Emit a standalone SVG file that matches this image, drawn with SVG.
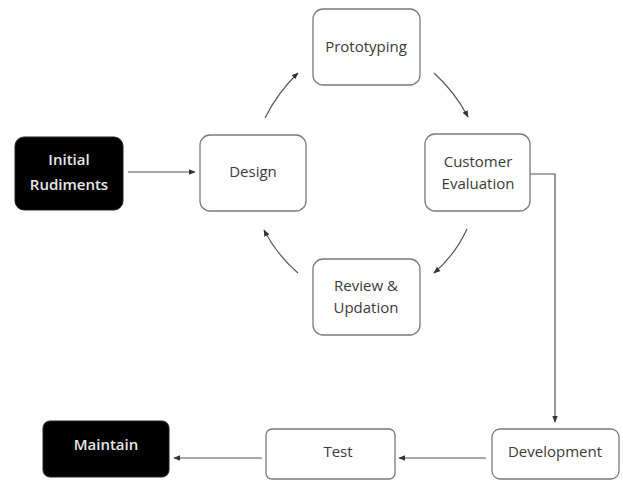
<svg xmlns="http://www.w3.org/2000/svg" width="623" height="489" viewBox="0 0 623 489">
<style>
.box{fill:#fff;stroke:#7a7a7a;stroke-width:1.3}
.dark{fill:#000;stroke:#222;stroke-width:1}
.t{font-family:"Open Sans","Liberation Sans",sans-serif;font-size:15px;fill:#3a3a3a;text-anchor:middle}
.w{fill:#e8e8e8;font-weight:600}
.c{fill:none;stroke:#555;stroke-width:1.2}
</style>
<defs>
<marker id="ah" viewBox="0 0 10 10" refX="9" refY="5" markerWidth="7" markerHeight="7" orient="auto" markerUnits="userSpaceOnUse">
<path d="M0,1 L10,5 L0,9 z" fill="#333"/>
</marker>
</defs>
<rect width="623" height="489" fill="#fff"/>
<g id="connectors">
<path class="c" d="M128,172 L195,172" marker-end="url(#ah)"/>
<path class="c" d="M265,118 Q278,92 298,73" marker-end="url(#ah)"/>
<path class="c" d="M434,73 Q455,92 468,117" marker-end="url(#ah)"/>
<path class="c" d="M467,229 Q455,255 434,273" marker-end="url(#ah)"/>
<path class="c" d="M298,273 Q277,255 264,230" marker-end="url(#ah)"/>
<path class="c" d="M519,174 L555,174 L555,422" marker-end="url(#ah)"/>
<path class="c" d="M486,458 L399,458" marker-end="url(#ah)"/>
<path class="c" d="M262,458 L174,458" marker-end="url(#ah)"/>
</g>
<g id="initial">
<rect class="dark" x="15" y="137" width="108" height="73" rx="9"/>
<text class="t w" x="69" y="165">Initial</text>
<text class="t w" x="69" y="190">Rudiments</text>
</g>
<g id="design">
<rect class="box" x="200" y="135" width="106" height="76" rx="10"/>
<text class="t" x="253" y="177">Design</text>
</g>
<g id="prototyping">
<rect class="box" x="313" y="9" width="107" height="76" rx="10"/>
<text class="t" x="366" y="52">Prototyping</text>
</g>
<g id="customer">
<rect class="box" x="425" y="134" width="105" height="77" rx="10"/>
<text class="t" x="478" y="167">Customer</text>
<text class="t" x="478" y="189">Evaluation</text>
</g>
<g id="review">
<rect class="box" x="313" y="259" width="107" height="76" rx="10"/>
<text class="t" x="366" y="291">Review &amp;</text>
<text class="t" x="366" y="313">Updation</text>
</g>
<g id="development">
<rect class="box" x="492" y="429" width="127" height="50" rx="8"/>
<text class="t" x="555" y="457">Development</text>
</g>
<g id="test">
<rect class="box" x="266" y="429" width="129" height="50" rx="6"/>
<text class="t" x="338" y="457">Test</text>
</g>
<g id="maintain">
<rect class="dark" x="43" y="421" width="126" height="56" rx="7"/>
<text class="t w" x="106" y="450">Maintain</text>
</g>
</svg>
